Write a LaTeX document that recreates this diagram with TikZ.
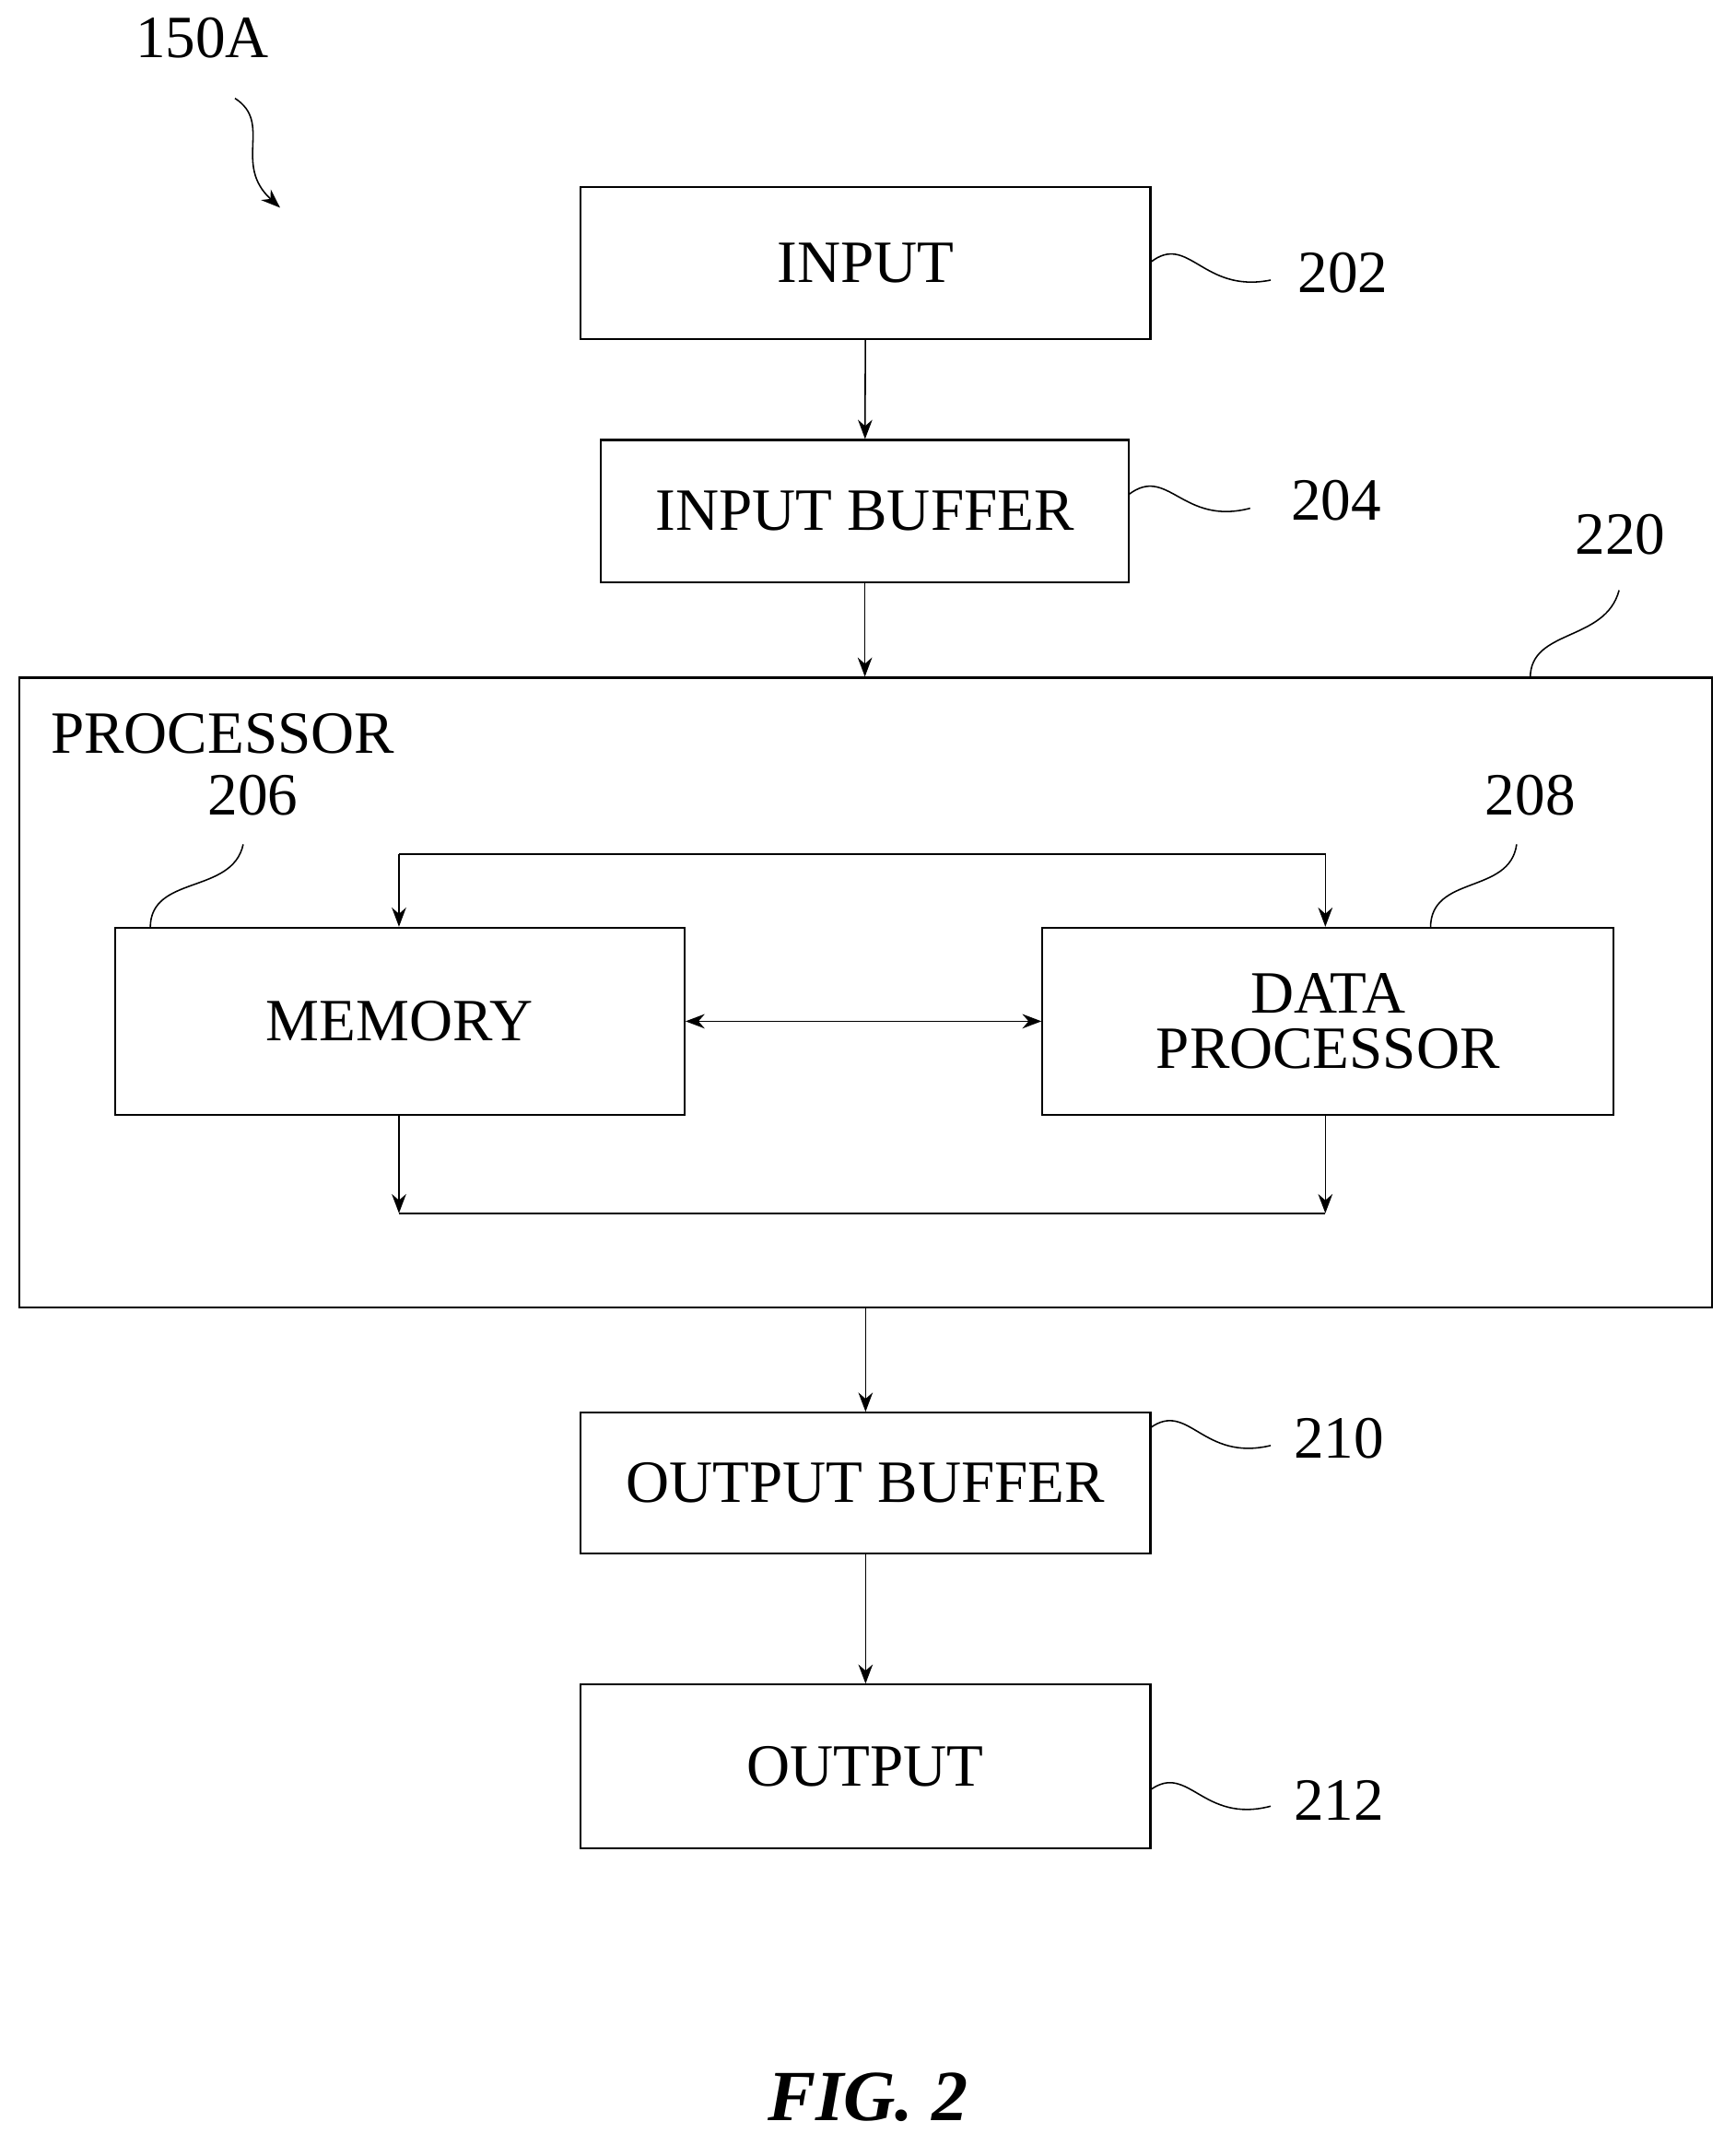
\documentclass[tikz,border=0pt]{standalone}
\usepackage{fontspec}
\setmainfont{Liberation Serif}
\usetikzlibrary{arrows.meta}
\begin{document}
\begin{tikzpicture}[x=0.02cm,y=-0.02cm,
 box/.style={draw,line width=0.8pt,rectangle,inner sep=0pt,align=center,font=\fontsize{25}{27}\selectfont},
 lbl/.style={font=\fontsize{25}{27}\selectfont,inner sep=1pt},
 arr/.style={-{Stealth[length=8pt,width=6pt]},line width=0.6pt},
 sq/.style={line width=0.6pt}]
\useasboundingbox (0,0) rectangle (1270,1570);
\node[box,minimum width=417*0.02cm,minimum height=111*0.02cm] (in) at (633.5,192.5) {INPUT};
\node[box,minimum width=386*0.02cm,minimum height=104*0.02cm] (ib) at (633,374) {INPUT BUFFER};
\node[draw,line width=0.8pt,minimum width=1239*0.02cm,minimum height=461*0.02cm,inner sep=0pt] (proc) at (633.5,726.5) {};
\node[lbl] (pl) at (163,537) {PROCESSOR};
\node[box,minimum width=417*0.02cm,minimum height=137*0.02cm] (mem) at (292.5,747.5) {MEMORY};
\node[box,minimum width=418*0.02cm,minimum height=137*0.02cm] (dp) at (972,747.5) {DATA\\[-4pt]PROCESSOR};
\node[box,minimum width=417*0.02cm,minimum height=103*0.02cm] (ob) at (633.5,1085.5) {OUTPUT BUFFER};
\node[box,minimum width=417*0.02cm,minimum height=120*0.02cm] (out) at (633.5,1293) {OUTPUT};
\node[lbl] (l202) at (983,200) {202};
\node[lbl] (l204) at (978,366) {204};
\node[lbl] (l220) at (1186,391) {220};
\node[lbl] (l206) at (185,582) {206};
\node[lbl] (l208) at (1120,582) {208};
\node[lbl] (l210) at (980,1053) {210};
\node[lbl] (l212) at (980,1318) {212};
\node[lbl] (l150) at (148,28) {150A};
\node[font=\fontsize{30}{32}\selectfont\bfseries\itshape] (fig) at (635,1535) {FIG. 2};
% squiggles
\draw[sq] (842,192) .. controls (870,170) and (880,215) .. (930,205);
\draw[sq] (826,362) .. controls (855,340) and (865,385) .. (915,372);
\draw[sq] (842,1045) .. controls (870,1025) and (880,1070) .. (930,1058);
\draw[sq] (842,1310) .. controls (870,1290) and (880,1335) .. (930,1322);
\draw[sq] (1120,496) .. controls (1120,460) and (1175,470) .. (1185,432);
\draw[sq] (110,679) .. controls (110,640) and (170,655) .. (178,618);
\draw[sq] (1047,679) .. controls (1047,640) and (1105,655) .. (1110,618);
\draw[arr] (172,72) .. controls (200,90) and (170,120) .. (205,152);
% connectors
\draw[arr] (in) -- (ib);
\draw[arr] (ib) -- (ib|-proc.north);
\coordinate (t1) at (292,625); \coordinate (t2) at (970,625);
\draw[arr] (t1) -- (t1|-mem.north);
\draw[arr] (t1) -- (t2) -- (t2|-dp.north);
\draw[{Stealth[length=8pt,width=6pt]}-{Stealth[length=8pt,width=6pt]},line width=0.6pt] (mem) -- (dp);
\coordinate (b1) at (292,888); \coordinate (b2) at (970,888);
\draw[arr] (b1|-mem.south) -- (b1);
\draw[arr] (b2|-dp.south) -- (b2);
\draw[line width=0.6pt] (b1) -- (b2);
\draw[arr] (proc.south-|ob) -- (ob);
\draw[arr] (ob) -- (out);
\end{tikzpicture}
\end{document}
